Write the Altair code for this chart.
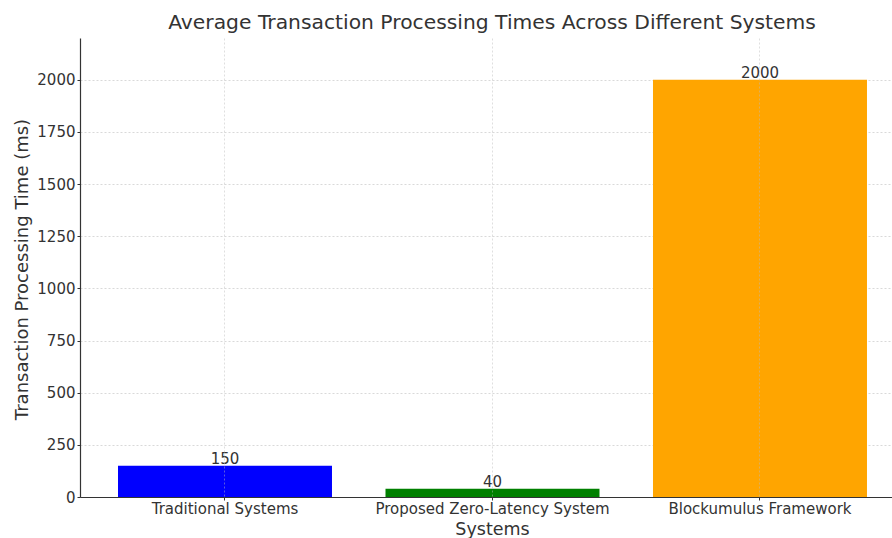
import altair as alt
import pandas as pd

systems = ["Traditional Systems", "Proposed Zero-Latency System", "Blockumulus Framework"]
times = [150, 40, 2000]
colors = ["#0000FF", "#008000", "#FFA500"]
y_ticks = [0, 250, 500, 750, 1000, 1250, 1500, 1750, 2000]

df = pd.DataFrame({"system": systems, "time": times, "color": colors})

FONT = "DejaVu Sans"
TXT = "#333333"

x_enc = alt.X(
    "system:N",
    sort=systems,
    title="Systems",
    scale=alt.Scale(paddingInner=0.2, paddingOuter=0.1178, align=0.603),
    axis=alt.Axis(
        labelAngle=0, labelFontSize=15, labelFont=FONT, labelColor=TXT, labelLimit=0,
        labelPadding=1, tickSize=3, tickColor=TXT, bandPosition=0.5,
        grid=True, gridDash=[2, 2], gridColor="#bbbbbb", gridOpacity=0.6, gridWidth=0.8,
        domainColor=TXT, domainWidth=1.2,
        titleFont=FONT, titleFontSize=17.5, titleFontWeight="normal", titleColor=TXT,
        titleX=412, titleY=23, titleBaseline="top", titleAlign="center",
        zindex=1,
    ),
)

y_enc = alt.Y(
    "time:Q",
    title="Transaction Processing Time (ms)",
    scale=alt.Scale(domain=[0, 2200], nice=False),
    axis=alt.Axis(
        values=y_ticks, format="d", labelFontSize=15, labelFont=FONT, labelColor=TXT,
        labelPadding=2, tickSize=3, tickColor=TXT,
        grid=True, gridDash=[2, 2], gridColor="#bbbbbb", gridOpacity=0.7, gridWidth=0.8,
        domainColor=TXT, domainWidth=1.2,
        titleFont=FONT, titleFontSize=18, titleFontWeight="normal", titleColor=TXT,
        titleX=-58, titleY=231, titleBaseline="middle", titleAlign="center", titleAngle=270,
    ),
)

bars = alt.Chart(df).mark_bar().encode(
    x=x_enc,
    y=y_enc,
    color=alt.Color("color:N", scale=None, legend=None),
)

labels = alt.Chart(df).mark_text(
    font=FONT, fontSize=15, color=TXT, baseline="alphabetic", dy=-2
).encode(
    x=alt.X("system:N", sort=systems),
    y=alt.Y("time:Q"),
    text="time:Q",
)

chart = (
    alt.layer(bars, labels)
    .properties(
        width=812,
        height=459,
        background="white",
        autosize=alt.AutoSizeParams(type="none"),
        padding={"left": 80, "top": 38, "right": 0, "bottom": 41},
        title=alt.TitleParams(
            "Average Transaction Processing Times Across Different Systems",
            font=FONT, fontSize=20.3, fontWeight="normal", color=TXT,
            anchor="middle", dx=6, offset=-11, baseline="alphabetic",
        ),
    )
    .configure_view(strokeWidth=0, stroke="transparent")
)

chart.save("out.html", embed_options={"renderer": "svg", "actions": False})
